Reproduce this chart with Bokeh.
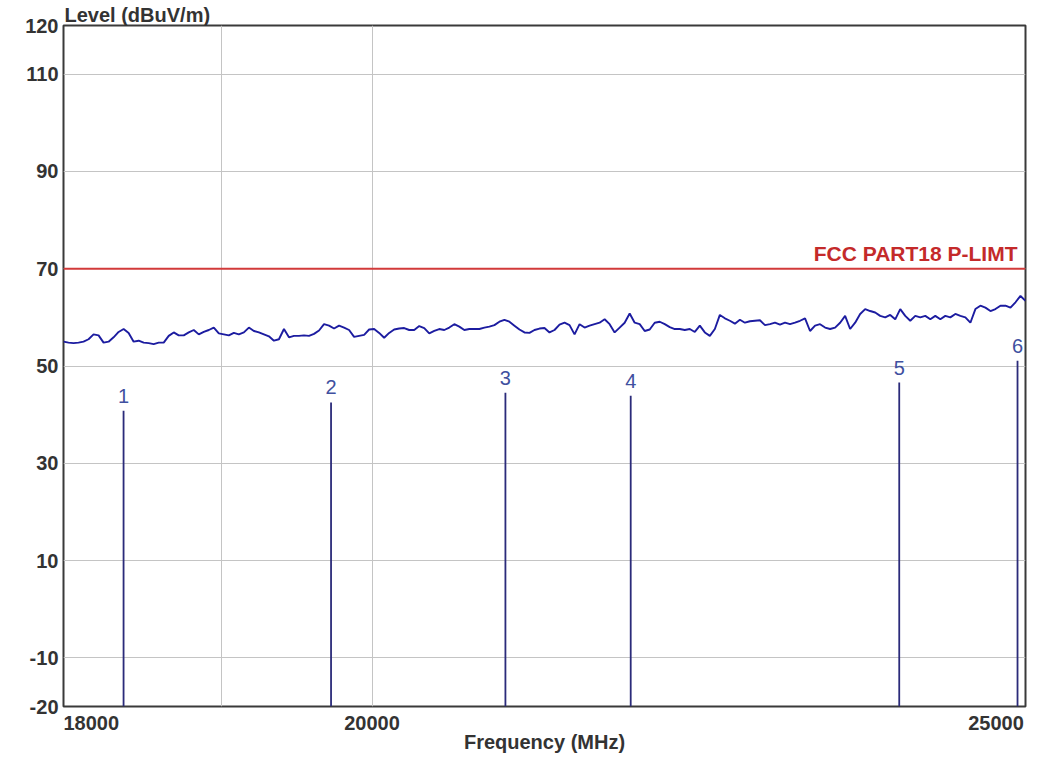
import numpy as np
from bokeh.plotting import figure
from bokeh.models import Range1d, FixedTicker, Label
from bokeh.embed import file_html
from bokeh.resources import INLINE

# ---------------- data ----------------
sweep_start = 18000   # MHz
sweep_stop = 25000    # MHz

# measured trace levels (dBuV/m), read left to right across the sweep
trace_level = [
    55.0, 54.8, 54.7, 54.8, 55.0, 55.5, 56.5, 56.3, 54.8, 55.0, 55.9, 57.0, 57.6, 56.8, 55.0, 55.2,
    54.8, 54.7, 54.5, 54.8, 54.8, 56.2, 56.9, 56.3, 56.3, 56.9, 57.4, 56.5, 57.0, 57.4, 57.9, 56.7,
    56.5, 56.3, 56.8, 56.5, 56.9, 57.9, 57.2, 56.9, 56.5, 56.1, 55.2, 55.5, 57.6, 55.9, 56.2, 56.2,
    56.3,
    56.2, 56.6, 57.3, 58.6, 58.3, 57.7, 58.3, 57.9, 57.4, 56.0, 56.2, 56.4, 57.5, 57.6, 56.8, 55.8,
    56.8, 57.5, 57.7, 57.8, 57.4, 57.4, 58.2, 57.8, 56.7, 57.2, 57.6, 57.4, 57.9, 58.6, 58.1, 57.4,
    57.6, 57.6, 57.6, 57.9, 58.1, 58.4, 59.1, 59.5, 59.1, 58.3, 57.5, 56.9, 56.8, 57.4, 57.7, 57.8,
    56.9, 57.4, 58.5, 58.9, 58.4, 56.5, 58.6, 57.9, 58.3, 58.6, 58.9, 59.6, 58.6, 56.9, 57.9, 58.9,
    60.8, 58.9, 58.6, 57.2, 57.5, 58.9, 59.1, 58.6, 58.0, 57.6, 57.6, 57.4, 57.6, 57.0, 58.3, 56.9,
    56.2, 57.6, 60.5, 59.8, 59.3, 58.7, 59.5, 58.9, 59.2, 59.3, 59.4, 58.4, 58.6, 58.9, 58.5, 58.9,
    58.6, 58.9, 59.3, 59.8, 57.2, 58.3, 58.6, 57.9, 57.6, 57.9, 58.9, 60.3, 57.6, 58.9, 60.7, 61.7,
    61.3, 61.0, 60.3, 60.0, 60.5, 59.6, 61.7, 60.3, 59.3, 60.3, 60.0, 60.3, 59.6, 60.3, 59.6, 60.3,
    60.0, 60.7, 60.3, 60.0, 58.9, 61.7, 62.4, 62.0, 61.3, 61.7, 62.4, 62.4, 62.0, 63.1, 64.4, 63.4,
]

limit_freq = [18000, 25000]
limit_level = [70, 70]
limit_name = "FCC PART18 P-LIMT"

marker_label = ["1", "2", "3", "4", "5", "6"]
marker_freq = [18373, 19722, 20932, 21847, 23945, 24932]
marker_level = [40.8, 42.5, 44.5, 43.9, 46.6, 51.1]

y_ticks = [-20, -10, 10, 30, 50, 70, 90, 110, 120]
y_tick_labels = ["-20", "-10", "10", "30", "50", "70", "90", "110", "120"]
y_grid = [-10, 10, 30, 50, 70, 90, 110]
x_grid = [19000, 20000]
x_ticks = [18000, 20000, 25000]
x_tick_labels = ["18000", "20000", "25000"]

# sweep points, equally spaced on the log axis
trace_freq = np.geomspace(sweep_start, sweep_stop, len(trace_level))

# ---------------- figure ----------------
FONT = "Liberation Sans"
TXT = "#333333"
p = figure(width=1040, height=755, x_axis_type="log",
           x_range=Range1d(sweep_start, sweep_stop), y_range=Range1d(-20, 120),
           output_backend="svg", toolbar_location=None,
           min_border_left=63, min_border_right=15, min_border_top=25, min_border_bottom=49)
p.background_fill_color = "white"
p.border_fill_color = "white"
p.outline_line_color = "#3a3a3a"
p.outline_line_width = 2

# title (y-axis unit) at top-left
p.title.text = "Level (dBuV/m)"
p.title.align = "left"
p.title.offset = 1
p.title.standoff = 0
p.title.text_font = FONT
p.title.text_font_size = "20px"
p.title.text_font_style = "bold"
p.title.text_color = TXT

# y axis
p.yaxis.ticker = FixedTicker(ticks=y_ticks)
p.yaxis.major_label_overrides = {t: s for t, s in zip(y_ticks, y_tick_labels)}
p.yaxis.axis_line_color = None
p.yaxis.major_tick_line_color = None
p.yaxis.minor_tick_line_color = None
p.yaxis.major_tick_out = 0
p.yaxis.major_tick_in = 0
p.yaxis.major_label_standoff = 5
p.yaxis.major_label_text_font = FONT
p.yaxis.major_label_text_font_size = "20px"
p.yaxis.major_label_text_font_style = "bold"
p.yaxis.major_label_text_color = TXT

# x axis: first label starts at the left edge, last label ends at the right edge
x_over = {x_ticks[0]: "\u00a0" * 10 + x_tick_labels[0], x_ticks[1]: x_tick_labels[1],
          x_ticks[2]: x_tick_labels[2] + "\u00a0" * 3}
p.xaxis.ticker = FixedTicker(ticks=x_ticks)
p.xaxis.major_label_overrides = x_over
p.xaxis.axis_line_color = None
p.xaxis.major_tick_line_color = None
p.xaxis.minor_tick_line_color = None
p.xaxis.major_tick_out = 0
p.xaxis.major_tick_in = 0
p.xaxis.major_label_standoff = 5
p.xaxis.major_label_text_font = FONT
p.xaxis.major_label_text_font_size = "20px"
p.xaxis.major_label_text_font_style = "bold"
p.xaxis.major_label_text_color = TXT
p.xaxis.axis_label = "Frequency (MHz)"
p.xaxis.axis_label_standoff = -6
p.xaxis.axis_label_text_font = FONT
p.xaxis.axis_label_text_font_size = "20px"
p.xaxis.axis_label_text_font_style = "bold"
p.xaxis.axis_label_text_color = TXT

p.xgrid.ticker = FixedTicker(ticks=x_grid)
p.ygrid.ticker = FixedTicker(ticks=y_grid)
p.xgrid.grid_line_color = "#c4c4c4"
p.ygrid.grid_line_color = "#c4c4c4"
p.xgrid.minor_grid_line_color = None

# limit line
p.line(limit_freq, limit_level, line_color="#d23a3a", line_width=2)
p.add_layout(Label(x=limit_freq[-1], y=limit_level[-1], text=limit_name, text_align="right",
                   text_baseline="alphabetic", x_offset=-8, y_offset=15,
                   text_font=FONT, text_font_size="21px", text_font_style="bold",
                   text_color="#c42a2a"))

# trace
p.line(trace_freq, trace_level, line_color="#1c1ca0", line_width=1.9)

# markers
p.segment(x0=marker_freq, y0=[-20] * len(marker_freq), x1=marker_freq, y1=marker_level,
          line_color="#2b2b7a", line_width=1.8)
for mf, ml, mt in zip(marker_freq, marker_level, marker_label):
    p.add_layout(Label(x=mf, y=ml, text=mt, text_align="center", text_baseline="alphabetic",
                       y_offset=15, text_font=FONT, text_font_size="20px",
                       text_color="#4050a0"))

open("out.html", "w").write(file_html(p, INLINE))
